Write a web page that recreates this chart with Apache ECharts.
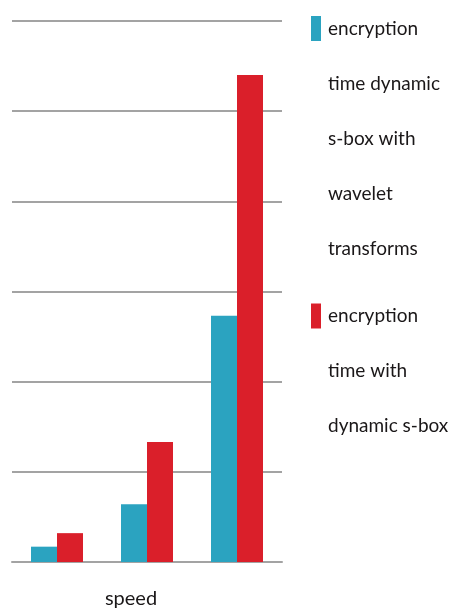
<!DOCTYPE html>
<html>
<head>
<meta charset="utf-8">
<script src="https://cdn.jsdelivr.net/npm/echarts@6/dist/echarts.min.js"></script>
<style>
  html, body { margin: 0; padding: 0; background: #ffffff; }
  #main { width: 450px; height: 614px; }
</style>
</head>
<body>
<div id="main"></div>
<script>
var chartDom = document.getElementById('main');
var myChart = echarts.init(chartDom);
var option;

// three groups along the x axis, only the axis name is shown
var categories = ['1', '2', '3'];
var seriesNames = [
  'encryption\ntime dynamic\ns-box with\nwavelet\ntransforms',
  'encryption\ntime with\ndynamic s-box'
];
var waveletTimes = [0.17, 0.64, 2.73];
var sboxTimes = [0.32, 1.33, 5.40];

var fontNarrow = "Lato, 'Liberation Sans Narrow', sans-serif";
var textDark = '#1a1718';
var gridGray = '#a3a3a3';

// legend text is centred on the icon, so pad with empty lines above
// to bring the first line level with the icon
function legendText(name) {
  var lines = name.split('\n');
  var out = [];
  for (var i = 1; i < lines.length; i++) {
    out.push('{t|\u00a0}');
  }
  for (var j = 0; j < lines.length; j++) {
    out.push('{t|' + lines[j] + '}');
  }
  return out.join('\n');
}

var legendTextStyle = {
  fontSize: 19,
  lineHeight: 55,
  color: textDark,
  fontFamily: fontNarrow,
  rich: {
    t: {
      fontSize: 19,
      lineHeight: 55,
      color: textDark,
      fontFamily: fontNarrow,
      padding: [0, 0, 0, 2]
    }
  }
};

option = {
  animation: false,
  textStyle: {
    fontFamily: fontNarrow
  },
  grid: {
    left: 12,
    right: 168,
    top: 21,
    bottom: 52,
    outerBoundsMode: 'none'
  },
  legend: [
    {
      data: [seriesNames[0]],
      orient: 'vertical',
      left: 311,
      top: 28.5 - 4.5 * 55,
      padding: 0,
      icon: 'rect',
      itemWidth: 10,
      itemHeight: 25,
      formatter: legendText,
      textStyle: legendTextStyle
    },
    {
      data: [seriesNames[1]],
      orient: 'vertical',
      left: 311,
      top: 316 - 2.5 * 55,
      padding: 0,
      icon: 'rect',
      itemWidth: 10,
      itemHeight: 25,
      formatter: legendText,
      textStyle: legendTextStyle
    }
  ],
  xAxis: {
    type: 'category',
    data: categories,
    name: 'speed',
    nameLocation: 'middle',
    nameGap: 27,
    nameTextStyle: {
      fontSize: 20,
      color: textDark,
      fontFamily: fontNarrow,
      padding: [0, 32, 0, 0]
    },
    axisLine: {
      lineStyle: { color: gridGray, width: 2 }
    },
    axisTick: { show: false },
    axisLabel: { show: false }
  },
  yAxis: {
    type: 'value',
    min: 0,
    max: 6,
    interval: 1,
    axisLine: { show: false },
    axisTick: { show: false },
    axisLabel: { show: false },
    splitLine: {
      lineStyle: { color: gridGray, width: 2 }
    }
  },
  series: [
    {
      name: seriesNames[0],
      type: 'bar',
      data: waveletTimes,
      barWidth: 26,
      barGap: '0%',
      itemStyle: { color: '#2ba3c0' }
    },
    {
      name: seriesNames[1],
      type: 'bar',
      data: sboxTimes,
      barWidth: 26,
      barGap: '0%',
      itemStyle: { color: '#da1f2a' }
    }
  ]
};

if (option && typeof option === 'object') {
  myChart.setOption(option);
}

window.addEventListener('resize', myChart.resize);
</script>
</body>
</html>
